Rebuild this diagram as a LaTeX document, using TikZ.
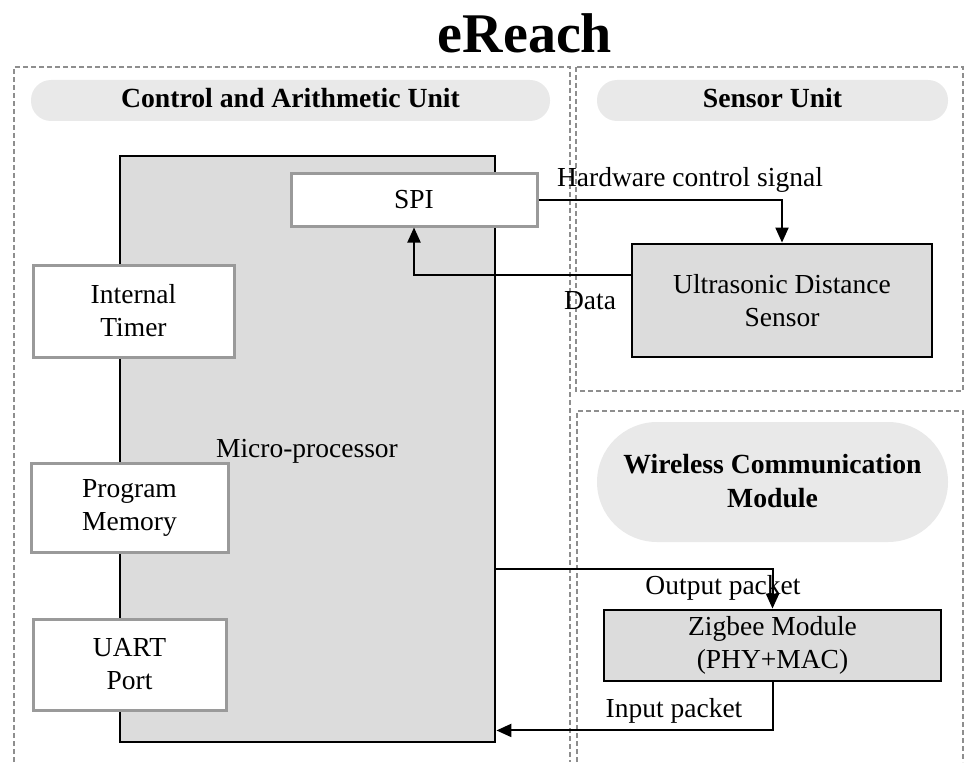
\documentclass[tikz,border=0pt]{standalone}
\usepackage{fontspec}
\setmainfont{Liberation Serif}
\usetikzlibrary{arrows.meta,calc}

\definecolor{framegray}{HTML}{8E8E8E}
\definecolor{pillgray}{HTML}{E9E9E9}
\definecolor{blockgray}{HTML}{DCDCDC}
\definecolor{edgegray}{HTML}{9A9A9A}

\tikzset{
  frame/.style={draw=framegray, line width=2.2pt, dash pattern=on 5pt off 3pt},
  pill/.style={fill=pillgray, draw=none},
  headtxt/.style={font=\fontsize{27.7}{34}\selectfont\bfseries, align=center, inner sep=0pt},
  bodytxt/.style={font=\fontsize{27.5}{33}\selectfont, align=center},
  cpu/.style={draw=black, line width=2.8pt, fill=blockgray, inner sep=0pt, bodytxt},
  subbox/.style={draw=edgegray, line width=3pt, fill=white, inner sep=0pt, bodytxt},
  devbox/.style={draw=black, line width=2.8pt, fill=blockgray, inner sep=0pt, bodytxt},
  link/.style={draw=black, line width=2pt},
  arr/.style={link, -{Triangle[length=15pt,width=13pt]}},
  lbl/.style={bodytxt, inner sep=0pt, anchor=base}
}

\begin{document}
\begin{tikzpicture}[x=1pt, y=-1pt]
  \useasboundingbox (0,0) rectangle (965,762);

  % title
  \node[font=\fontsize{56}{60}\selectfont\bfseries, anchor=base, inner sep=0pt] (title) at (525,53) {eReach};

  % unit frames
  \draw[frame] (14,762) -- (14,67) -- (570,67) -- (570,762);
  \draw[frame] (576,67) rectangle (963,391);
  \draw[frame] (577,762) -- (577,411) -- (963,411) -- (963,762);

  % unit headings
  \fill[pill, rounded corners=20pt] (31,80) rectangle (550,121);
  \node[headtxt, anchor=base] (hcau) at (290.5,108) {Control and Arithmetic Unit};
  \fill[pill, rounded corners=20pt] (597,80) rectangle (948,121);
  \node[headtxt, anchor=base] (hsen) at (772.5,108) {Sensor Unit};
  \fill[pill, rounded corners=60pt] (597,422) rectangle (948,542);
  \node[headtxt] (hwcm) at (772.5,481) {Wireless Communication\\Module};

  % control and arithmetic unit
  \node[cpu, minimum width=375pt, minimum height=586pt] (mp) at (307.5,449) {};
  \node[bodytxt, anchor=base, inner sep=0pt] (mplbl) at (307,457) {Micro-processor};
  \node[subbox, minimum width=246pt, minimum height=53pt] (spi) at (414,199.5) {SPI};
  \node[subbox, minimum width=201pt, minimum height=92pt] (timer) at (133.5,311) {Internal\\Timer};
  \node[subbox, minimum width=197pt, minimum height=89pt] (mem) at (129.5,507.5) {Program\\Memory};
  \node[subbox, minimum width=193pt, minimum height=91pt] (uart) at (129.5,664.5) {UART\\Port};

  % sensor and radio blocks
  \node[devbox, minimum width=300pt, minimum height=113pt] (us) at (782,300.5) {Ultrasonic Distance\\Sensor};
  \node[devbox, minimum width=337pt, minimum height=71pt] (zig) at (772.5,645.5) {Zigbee Module\\(PHY+MAC)};

  % signal paths
  \draw[arr] (spi.east) -| (us.north);
  \draw[arr] ($(us.north west)!0.28!(us.south west)$) -| (spi.south);
  \draw[arr] ($(mp.north east)!0.703!(mp.south east)$) -| (zig.north);
  \draw[arr] (zig.south) |- ($(mp.north east)!0.978!(mp.south east)$);

  % path labels
  \node[lbl] (lhw) at (690,186) {Hardware control signal};
  \node[lbl] (ldata) at (590,309) {Data};
  \node[lbl] (lout) at (723,594) {Output packet};
  \node[lbl] (lin) at (674,717) {Input packet};
\end{tikzpicture}
\end{document}
